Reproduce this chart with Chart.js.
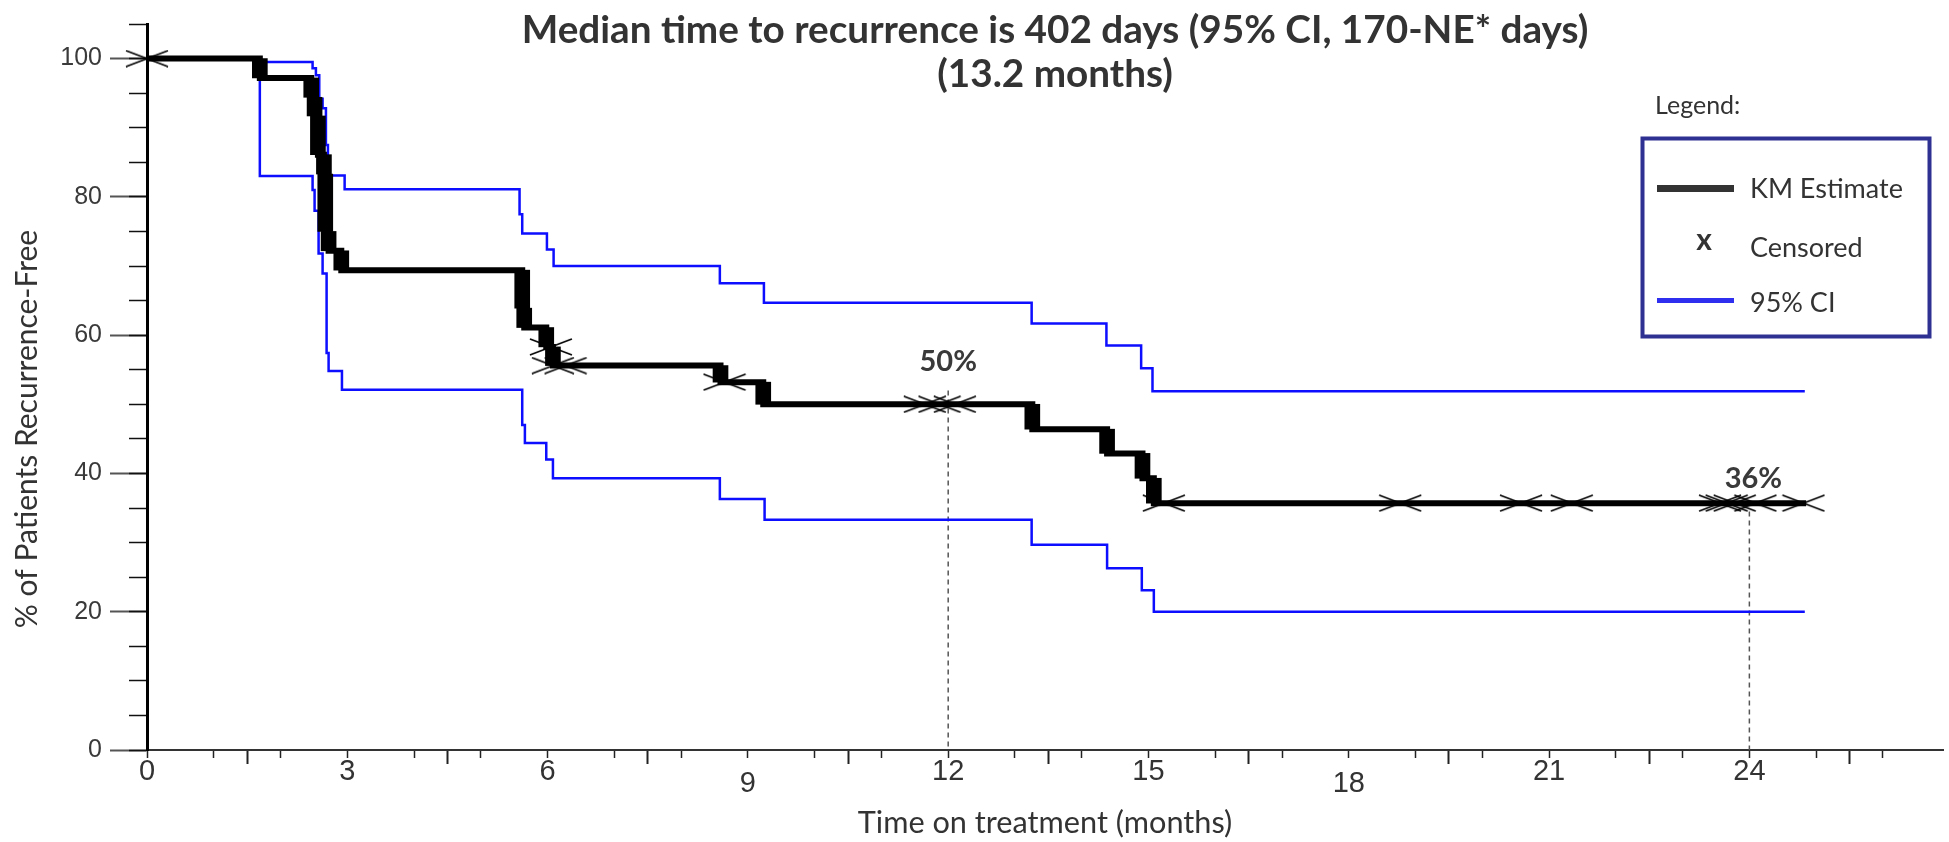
<!DOCTYPE html>
<html>
<head>
<meta charset="utf-8">
<title>Time to recurrence - Kaplan-Meier</title>
<script src="https://cdn.jsdelivr.net/npm/chart.js@4.4.1/dist/chart.umd.min.js"></script>
<style>
  html, body { margin: 0; padding: 0; background: #fff; }
  #wrap { position: relative; width: 1949px; height: 842px; }
</style>
</head>
<body>
<div id="wrap"><canvas id="kmChart"></canvas></div>
<script>
// =================================================================
// Dados (tempo em meses, % livre de recorrência)
// =================================================================
const kmTime = [0, 1.69, 2.46, 2.51, 2.56, 2.65, 2.67, 2.72, 2.91, 5.62, 5.65, 5.98, 6.08, 8.59, 9.23, 13.26, 14.38, 14.91, 15.08, 24.85];
const kmPct  = [100, 97.2, 94.4, 91.7, 86.1, 83.3, 75.0, 72.2, 69.4, 63.9, 61.1, 58.3, 55.6, 53.2, 50.0, 46.4, 42.9, 39.3, 35.7, 35.7];

const censorTime = [0, 6.05, 6.08, 6.27, 8.65, 11.65, 11.87, 12.1, 15.23, 18.77, 20.58, 21.34, 23.56, 23.66, 23.78, 24.09, 24.81];

const ciUpTime = [0, 1.69, 2.48, 2.53, 2.58, 2.63, 2.68, 2.71, 2.73, 2.96, 5.58, 5.62, 5.99, 6.09, 8.58, 9.24, 13.25, 14.37, 14.89, 15.06, 24.83];
const ciUpPct  = [100, 99.5, 98.6, 97.6, 94.2, 92.8, 87.5, 85.3, 83.1, 81.1, 77.5, 74.7, 72.4, 70.0, 67.5, 64.7, 61.7, 58.5, 55.2, 51.9, 51.9];

const ciLoTime = [0, 1.69, 2.48, 2.51, 2.57, 2.63, 2.69, 2.72, 2.92, 5.62, 5.66, 5.98, 6.08, 8.58, 9.25, 13.25, 14.38, 14.9, 15.08, 24.83];
const ciLoPct  = [100, 83.0, 81.0, 78.0, 71.8, 68.9, 57.4, 54.8, 52.1, 47.0, 44.4, 42.0, 39.3, 36.3, 33.3, 29.7, 26.3, 23.1, 20.0, 20.0];

// linhas tracejadas de referência (mediana e 24 meses)
const refX   = [12, 24];
const refTop = [52, 34.5];

// rótulos de porcentagem
const markText = ['50%', '36%'];
const markX    = [12, 24.06];
const markY    = [56.1, 39.3];

// rótulos do eixo x que ficam um pouco mais baixos na figura
const xLowered = [9, 18];

const titleLines   = ['Median time to recurrence is 402 days (95% CI, 170-NE* days)', '(13.2 months)'];
const yTitle       = '% of Patients Recurrence-Free';
const legendLabels = ['KM Estimate', 'Censored', '95% CI'];

// =================================================================
// Helpers
// =================================================================
function toPoints(xs, ys) {
    return xs.map((t, i) => ({ x: t, y: ys[i] }));
}

function kmAt(t) {
    let v = kmPct[0];
    for (let i = 0; i < kmTime.length; i++) {
        if (kmTime[i] <= t) v = kmPct[i];
    }
    return v;
}

// degraus verticais grossos da curva KM
function kmDrops() {
    const out = [];
    for (let i = 1; i < kmTime.length; i++) {
        if (kmPct[i] < kmPct[i - 1]) out.push({ x: kmTime[i], y: [kmPct[i], kmPct[i - 1]] });
    }
    return out;
}

// marcador de censura: um "x" largo e achatado
function makeCensorMark() {
    const c = document.createElement('canvas');
    c.width = 44;
    c.height = 18;
    const g = c.getContext('2d');
    g.strokeStyle = '#000';
    g.lineWidth = 1.6;
    g.beginPath();
    g.moveTo(1, 1); g.lineTo(43, 17);
    g.moveTo(1, 17); g.lineTo(43, 1);
    g.stroke();
    return c;
}

// título, legenda, título do eixo y e rótulos 50% / 36%
const overlayPlugin = {
    id: 'kmOverlay',
    afterDraw(chart) {
        const { ctx, scales } = chart;
        const x = scales.x, y = scales.y;
        ctx.save();

        ctx.fillStyle = '#3a3a3a';
        ctx.font = 'bold 29px Lato, sans-serif';
        ctx.textAlign = 'center';
        ctx.textBaseline = 'middle';
        markText.forEach((t, i) => {
            ctx.fillText(t, x.getPixelForValue(markX[i]), y.getPixelForValue(markY[i]));
        });

        // título do eixo y (um pouco abaixo do centro, como na figura)
        ctx.save();
        ctx.translate(27, 429);
        ctx.rotate(-Math.PI / 2);
        ctx.fillStyle = '#333';
        ctx.font = '30px Lato, sans-serif';
        ctx.fillText(yTitle, 0, 0);
        ctx.restore();

        ctx.fillStyle = '#333';
        ctx.font = 'bold 38.7px Lato, sans-serif';
        ctx.textBaseline = 'alphabetic';
        ctx.fillText(titleLines[0], 1055, 43);
        ctx.fillText(titleLines[1], 1055, 87);

        // legenda
        ctx.textAlign = 'left';
        ctx.font = '25px Lato, sans-serif';
        ctx.fillText('Legend:', 1655, 114);

        ctx.strokeStyle = '#2e3192';
        ctx.lineWidth = 4;
        ctx.strokeRect(1642.5, 138.5, 287, 198);

        ctx.fillStyle = '#333';
        ctx.fillRect(1657, 185, 77, 7);
        ctx.fillStyle = '#2f2ff0';
        ctx.fillRect(1657, 298, 77, 5);

        ctx.fillStyle = '#333';
        ctx.font = '27px Lato, sans-serif';
        ctx.fillText(legendLabels[0], 1750, 198);
        ctx.fillText(legendLabels[1], 1750, 257);
        ctx.fillText(legendLabels[2], 1750, 312);

        ctx.font = 'bold 30px Lato, sans-serif';
        ctx.textAlign = 'center';
        ctx.fillText('x', 1704, 250);

        ctx.restore();
    }
};

// =================================================================
// Gráfico
// =================================================================
const axisFont = 'Liberation Sans, Arial, sans-serif';
const tickFont = '"Liberation Sans Narrow", "Arial Narrow", "Liberation Sans", sans-serif';

const datasets = [
    {
        label: 'Censored',
        type: 'line',
        data: censorTime.map(t => ({ x: t, y: kmAt(t) })),
        showLine: false,
        pointStyle: makeCensorMark(),
        pointRadius: 5,
        clip: false,
        order: 0
    },
    {
        label: 'KM Estimate',
        type: 'line',
        data: toPoints(kmTime, kmPct),
        stepped: true,
        borderColor: '#000',
        borderWidth: 6,
        borderCapStyle: 'butt',
        borderJoinStyle: 'miter',
        pointRadius: 0,
        fill: false,
        order: 1
    },
    {
        label: 'KM drops',
        type: 'bar',
        data: kmDrops(),
        backgroundColor: '#000',
        borderWidth: 0,
        barThickness: 15,
        grouped: false,
        order: 2
    },
    {
        label: '95% CI upper',
        type: 'line',
        data: toPoints(ciUpTime, ciUpPct),
        stepped: true,
        borderColor: '#0d0dff',
        borderWidth: 2.5,
        pointRadius: 0,
        fill: false,
        order: 3
    },
    {
        label: '95% CI lower',
        type: 'line',
        data: toPoints(ciLoTime, ciLoPct),
        stepped: true,
        borderColor: '#0d0dff',
        borderWidth: 2.5,
        pointRadius: 0,
        fill: false,
        order: 3
    }
];

refX.forEach((rx, i) => {
    datasets.push({
        label: 'ref ' + rx,
        type: 'line',
        data: [{ x: rx, y: refTop[i] }, { x: rx, y: 0 }],
        borderColor: '#555',
        borderWidth: 1.5,
        borderDash: [5, 4],
        pointRadius: 0,
        fill: false,
        order: 4
    });
});

const kmChart = new Chart(document.getElementById('kmChart').getContext('2d'), {
    type: 'line',
    data: { datasets },
    options: {
        responsive: true,
        maintainAspectRatio: false,
        animation: false,
        events: [],
        layout: { padding: { top: 24, left: 0, right: 0, bottom: 0 } },
        plugins: {
            legend: { display: false },
            tooltip: { enabled: false },
            title: { display: false }
        },
        scales: {
            x: {
                type: 'linear',
                position: 'bottom',
                min: 0,
                max: 26.9,
                offset: false,
                weight: 1,
                border: { display: true, color: '#333', width: 2 },
                grid: { drawOnChartArea: false, drawTicks: true, tickLength: 14, tickColor: '#222', tickWidth: 2 },
                ticks: {
                    stepSize: 3,
                    includeBounds: false,
                    padding: -9,
                    color: '#333',
                    maxRotation: 0,
                    autoSkip: false,
                    font: (c) => ({
                        family: tickFont,
                        size: 29,
                        lineHeight: (c.tick && xLowered.includes(c.tick.value)) ? 0.676 : 1.2
                    }),
                    callback: (v) => xLowered.includes(v) ? ['', String(v)] : String(v)
                },
                title: {
                    display: true,
                    text: 'Time on treatment (months)',
                    color: '#333',
                    font: { family: 'Lato, sans-serif', size: 30.7 },
                    padding: { top: 0, bottom: 0 }
                },
                afterFit: (s) => { s.height = 92; }
            },
            xMinor: {
                type: 'linear',
                axis: 'x',
                position: 'bottom',
                min: 0,
                max: 26.9,
                weight: 0,
                border: { display: false },
                grid: { drawOnChartArea: false, drawTicks: true, tickLength: 8, tickColor: '#222', tickWidth: 1.5 },
                ticks: { stepSize: 1, includeBounds: false, display: false },
                afterFit: (s) => { s.height = 0; }
            },
            y: {
                type: 'linear',
                position: 'left',
                min: 0,
                max: 105,
                weight: 1,
                border: { display: true, color: '#000', width: 3 },
                grid: { drawOnChartArea: false, drawTicks: true, tickLength: 37, tickColor: '#555', tickWidth: 2 },
                ticks: {
                    stepSize: 20,
                    includeBounds: false,
                    padding: 8,
                    color: '#3a3a3a',
                    font: { family: axisFont, size: 25 }
                },
                title: { display: false },
                afterFit: (s) => { s.width = 147; }
            },
            yMinor: {
                type: 'linear',
                axis: 'y',
                position: 'left',
                min: 0,
                max: 105,
                weight: 0,
                border: { display: false },
                grid: { drawOnChartArea: false, drawTicks: true, tickLength: 18, tickColor: '#111', tickWidth: 1.5 },
                ticks: { stepSize: 5, display: false },
                afterFit: (s) => { s.width = 0; }
            }
        }
    },
    plugins: [overlayPlugin]
});
</script>
</body>
</html>
